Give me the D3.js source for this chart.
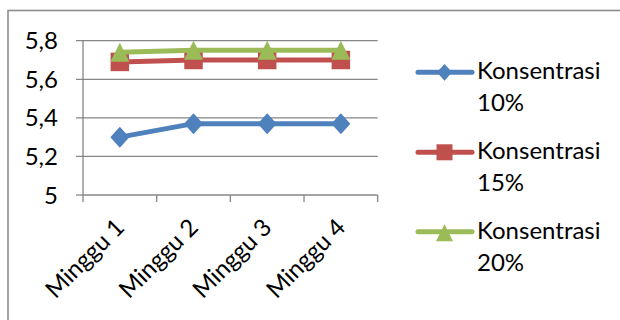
<!DOCTYPE html>
<html><head><meta charset="utf-8">
<script src="https://cdn.jsdelivr.net/npm/d3@7"></script>
<style>html,body{margin:0;padding:0;background:#fff;}svg{display:block;}</style>
</head><body>
<svg id="c" width="620" height="320"></svg>
<script>
const categories = ["Minggu 1", "Minggu 2", "Minggu 3", "Minggu 4"];
const seriesNames = ["Konsentrasi 10%", "Konsentrasi 15%", "Konsentrasi 20%"];
const conc10 = [5.30, 5.37, 5.37, 5.37];
const conc15 = [5.69, 5.70, 5.70, 5.70];
const conc20 = [5.74, 5.75, 5.75, 5.75];
const yTicks = [5, 5.2, 5.4, 5.6, 5.8];
const yTickLabels = ["5", "5,2", "5,4", "5,6", "5,8"];
const colors = ["#4F81BD", "#C0504D", "#9BBB59"];
const seriesValues = [conc10, conc15, conc20];

(function () {
const diamondType = { draw(ctx, size) { const r = Math.sqrt(size) / 2;
  ctx.moveTo(0, -r * 1.05); ctx.lineTo(r * 0.95, 0); ctx.lineTo(0, r * 1.05); ctx.lineTo(-r * 0.95, 0); ctx.closePath(); } };
const triType = { draw(ctx, size) { const r = Math.sqrt(size) / 2;
  ctx.moveTo(0, -r); ctx.lineTo(r, r); ctx.lineTo(-r, r); ctx.closePath(); } };
const symbols = [diamondType, d3.symbolSquare, triType];
const plotSizes = [400, 342, 361];
const legSizes = [256, 256, 289];

const svg = d3.select("#c");
const FONT = "Lato, 'Open Sans', sans-serif";
const pL = 83, pR = 377.7, pT = 40.7, pB = 195;

svg.append("rect").attr("x", 8).attr("y", 10.5).attr("width", 640).attr("height", 340)
  .attr("fill", "none").attr("stroke", "#8c8c8c").attr("stroke-width", 1.6);

const x = d3.scaleBand().domain(categories).range([pL, pR]);
const y = d3.scaleLinear().domain([5, 5.8]).range([pB, pT]);

yTicks.forEach((t, i) => {
  svg.append("line").attr("x1", pL - 7).attr("x2", i === 0 ? pL : pR)
    .attr("y1", y(t)).attr("y2", y(t)).attr("stroke", "#868686").attr("stroke-width", 1.3);
  svg.append("text").attr("x", 58).attr("y", y(t)).attr("dy", "0.36em")
    .attr("text-anchor", "end").attr("font-family", FONT).attr("font-size", 24)
    .attr("fill", "#000").text(yTickLabels[i]);
});
svg.append("line").attr("x1", pL).attr("x2", pL).attr("y1", pT).attr("y2", pB)
  .attr("stroke", "#868686").attr("stroke-width", 1.3);
svg.append("line").attr("x1", pL).attr("x2", pR).attr("y1", pB).attr("y2", pB)
  .attr("stroke", "#868686").attr("stroke-width", 1.3);
const xt = categories.map(c => x(c)).concat([pR]);
xt.forEach(v => svg.append("line").attr("x1", v).attr("x2", v).attr("y1", pB).attr("y2", pB + 7)
  .attr("stroke", "#868686").attr("stroke-width", 1.3));

categories.forEach(c => {
  const cx = x(c) + x.bandwidth() / 2;
  svg.append("text").attr("transform", `translate(${cx + 6},${pB + 34}) rotate(-45)`)
    .attr("text-anchor", "end").attr("font-family", FONT).attr("font-size", 24)
    .attr("fill", "#000").text(c);
});

const line = d3.line().x((d, i) => x(categories[i]) + x.bandwidth() / 2).y(d => y(d));
seriesValues.forEach((vals, s) => {
  svg.append("path").datum(vals).attr("d", line).attr("fill", "none")
    .attr("stroke", colors[s]).attr("stroke-width", 5).attr("stroke-linejoin", "round").attr("stroke-linecap", "round");
  const sym = d3.symbol().type(symbols[s]).size(plotSizes[s]);
  vals.forEach((v, i) => {
    svg.append("path").attr("d", sym())
      .attr("transform", `translate(${x(categories[i]) + x.bandwidth() / 2},${y(v)})`)
      .attr("fill", colors[s]);
  });
});

const legY = [72.3, 152.3, 231.7];
seriesNames.forEach((name, s) => {
  const g = svg.append("g");
  g.append("line").attr("x1", 418).attr("x2", 472).attr("y1", legY[s]).attr("y2", legY[s])
    .attr("stroke", colors[s]).attr("stroke-width", 5).attr("stroke-linecap", "round");
  const sym = d3.symbol().type(symbols[s]).size(legSizes[s]);
  g.append("path").attr("d", sym()).attr("transform", `translate(444.5,${legY[s] + (s === 2 ? 1 : 0)})`).attr("fill", colors[s]);
  const parts = name.split(" ");
  g.append("text").attr("x", 477).attr("y", legY[s] + 7).attr("font-family", FONT).attr("font-size", 24)
    .attr("fill", "#000").text(parts[0]);
  g.append("text").attr("x", 477).attr("y", legY[s] + 39).attr("font-family", FONT).attr("font-size", 24)
    .attr("fill", "#000").text(parts[1]);
});
})();
</script>
</body></html>
